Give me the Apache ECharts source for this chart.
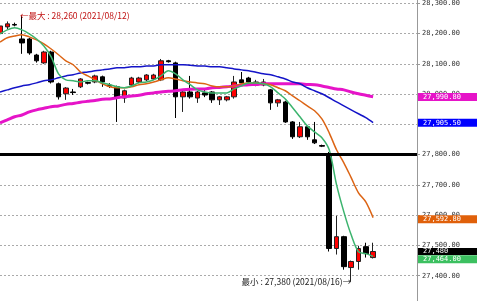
<!DOCTYPE html>
<html>
<head>
<meta charset="utf-8">
<script src="https://cdn.jsdelivr.net/npm/echarts@6/dist/echarts.min.js"></script>
<style>
  html, body { margin: 0; padding: 0; background: #fff; }
  #chart { width: 480px; height: 301px; }
</style>
</head>
<body>
<div id="chart"></div>
<script>
// bars (hidden axis), 52 candles + empty room on the right
const categories = [
  '1', '2', '3', '4', '5', '6', '7', '8', '9', '10', '11', '12', '13', '14', '15',
  '16', '17', '18', '19', '20', '21', '22', '23', '24', '25', '26', '27', '28', '29', '30',
  '31', '32', '33', '34', '35', '36', '37', '38', '39', '40', '41', '42', '43', '44', '45',
  '46', '47', '48', '49', '50', '51', '52', '53', '54', '55', '56', '57', '58',
];

// [open, close, low, high]
const candles = [
  [28200, 28225, 28195, 28235], [28222, 28232, 28215, 28240], [28230, 28228, 28224, 28236],
  [28182, 28169, 28133, 28260], [28182, 28136, 28130, 28186], [28129, 28110, 28104, 28133],
  [28103, 28139, 28100, 28143], [28139, 28040, 28035, 28143], [28034, 27991, 27982, 28038],
  [28001, 28020, 27981, 28023], [28007, 28005, 27997, 28017], [28024, 28050, 28020, 28053],
  [28038, 28036, 28032, 28041], [28040, 28060, 28036, 28064], [28057, 28040, 28024, 28061],
  [28030, 28026, 28020, 28036], [28024, 27987, 27908, 28028], [27987, 28011, 27971, 28015],
  [28030, 28053, 28026, 28057], [28040, 28053, 28036, 28057], [28047, 28063, 28043, 28066],
  [28050, 28063, 28046, 28067], [28047, 28110, 28043, 28116], [28110, 28107, 28104, 28113],
  [28103, 27991, 27921, 28107], [27991, 28007, 27941, 28010], [28007, 27991, 27985, 28060],
  [27987, 28007, 27971, 28010], [28004, 27997, 27990, 28017], [28007, 27981, 27971, 28010],
  [27981, 27991, 27964, 27994], [27981, 27991, 27976, 27994], [27991, 28040, 27985, 28060],
  [28047, 28037, 28033, 28073], [28053, 28040, 28036, 28057], [28030, 28040, 28026, 28047],
  [28030, 28040, 28026, 28050], [28014, 27971, 27948, 28017], [27971, 27981, 27958, 27984],
  [27974, 27908, 27905, 27978], [27908, 27859, 27852, 27911], [27859, 27892, 27855, 27908],
  [27892, 27859, 27849, 27895], [27849, 27839, 27835, 27908], [27830, 27828, 27825, 27833],
  [27799, 27490, 27480, 27809], [27490, 27529, 27470, 27598], [27529, 27430, 27420, 27532],
  [27427, 27447, 27380, 27450], [27447, 27490, 27420, 27499], [27496, 27473, 27460, 27509],
  [27460, 27480, 27457, 27509],
];

// moving averages
const maGreen = [
  28199, 28212, 28219, 28212, 28199, 28182, 28159, 28123, 28067, 28047,
  28044, 28040, 28044, 28044, 28037, 28031, 28024, 28021, 28027, 28037,
  28040, 28047, 28060, 28077, 28067, 28047, 28031, 28014, 28007, 28004,
  28004, 28004, 28017, 28027, 28037, 28037, 28034, 28024, 28004, 27984,
  27955, 27925, 27895, 27875, 27856, 27816, 27701, 27611, 27535, 27479,
  27473, 27464,
];
const maOrange = [
  28172, 28186, 28192, 28196, 28189, 28179, 28166, 28149, 28130, 28110,
  28097, 28073, 28060, 28047, 28034, 28024, 28021, 28021, 28024, 28031,
  28034, 28040, 28047, 28054, 28050, 28044, 28040, 28037, 28034, 28027,
  28024, 28024, 28027, 28034, 28037, 28037, 28034, 28031, 28021, 28011,
  27994, 27978, 27961, 27945, 27918, 27872, 27816, 27773, 27724, 27674,
  27644, 27592,
];
const maBlue = [
  28007, 28014, 28021, 28027, 28031, 28037, 28044, 28047, 28054, 28060,
  28064, 28070, 28073, 28077, 28080, 28083, 28087, 28087, 28090, 28090,
  28093, 28093, 28097, 28097, 28097, 28097, 28095, 28093, 28093, 28090,
  28090, 28087, 28083, 28080, 28077, 28072, 28067, 28064, 28057, 28050,
  28040, 28034, 28021, 28011, 28001, 27988, 27974, 27961, 27948, 27935,
  27922, 27905.5,
];
const maMagenta = [
  27905, 27915, 27925, 27931, 27941, 27948, 27953, 27958, 27961, 27966,
  27969, 27973, 27976, 27979, 27983, 27984, 27988, 27991, 27994, 27996,
  28001, 28004, 28007, 28009, 28011, 28014, 28016, 28017, 28017, 28021,
  28022, 28024, 28027, 28029, 28031, 28032, 28034, 28034, 28034, 28034,
  28034, 28034, 28032, 28031, 28027, 28022, 28017, 28014, 28007, 28001,
  27996, 27991,
];

// price boxes on the right axis
const boxValues = [27990.8, 27905.5, 27592.8, 27480, 27464];
const boxTexts = ['27,990.80', '27,905.50', '27,592.80', '27,480', '27,464.00'];
const boxColors = ['#e614c8', '#0000ff', '#e0600a', '#000000', '#3cc060'];

const hLineValue = 27800;
const maxPoint = [3, 28260];
const minPoint = [48, 27380];
const maxText = '←最大 : 28,260 (2021/08/12)';
const minText = '最小 : 27,380 (2021/08/16)→';

const monoFont = 'DejaVu Sans Mono';

function fmt(v) {
  return String(v).replace(/\B(?=(\d{3})+(?!\d))/g, ',') + '.00';
}

function boxLine(i, dy, h) {
  return {
    yAxis: boxValues[i],
    lineStyle: { width: 0, color: 'rgba(0,0,0,0)' },
    label: {
      show: true,
      position: 'end',
      distance: 1,
      offset: [0, dy || 0],
      formatter: boxTexts[i],
      backgroundColor: boxColors[i],
      color: '#fff',
      fontSize: 7,
      fontFamily: monoFont,
      width: 54,
      height: h || 8,
      lineHeight: h || 8,
      padding: [0, 0, 0, 5],
    },
  };
}

function maSeries(data, color, width, box) {
  return {
    type: 'line',
    data: data,
    showSymbol: false,
    smooth: 0.3,
    silent: true,
    lineStyle: { color: color, width: width },
    markLine: {
      silent: true,
      symbol: ['none', 'none'],
      data: [box],
    },
  };
}

const chart = echarts.init(document.getElementById('chart'));
chart.setOption({
  animation: false,
  backgroundColor: '#fff',
  grid: {
    left: 0,
    right: 63,
    top: -27,
    bottom: -5,
    containLabel: false,
    outerBoundsMode: 'none',
  },
  xAxis: {
    type: 'category',
    data: categories,
    boundaryGap: false,
    show: false,
  },
  yAxis: {
    type: 'value',
    position: 'right',
    min: 27300,
    max: 28400,
    interval: 100,
    axisLine: { show: true, lineStyle: { color: '#999' } },
    axisTick: { show: true, length: 3, lineStyle: { color: '#999' } },
    axisLabel: {
      margin: 5,
      color: '#333',
      fontSize: 7,
      fontFamily: monoFont,
      formatter: fmt,
    },
    splitLine: { show: true, lineStyle: { color: '#aaa', width: 1, type: [2, 2] } },
  },
  series: [
    {
      type: 'candlestick',
      data: candles,
      barWidth: 5,
      itemStyle: {
        color: '#ff0000',
        color0: '#000000',
        borderColor: '#222',
        borderColor0: '#000',
        borderWidth: 1,
      },
      markLine: {
        silent: true,
        symbol: ['none', 'none'],
        data: [
          { yAxis: hLineValue, lineStyle: { color: '#000', width: 3, type: 'solid' }, label: { show: false } },
          boxLine(3, 0, 7),
        ],
      },
      markPoint: {
        silent: true,
        symbol: 'circle',
        symbolSize: 0,
        data: [
          {
            coord: maxPoint,
            label: {
              show: true, position: 'right', distance: 0, offset: [-2, 0],
              formatter: maxText, color: '#c01010', fontSize: 8.5, fontFamily: 'Noto Sans CJK JP',
            },
          },
          {
            coord: minPoint,
            label: {
              show: true, position: 'left', distance: 0, offset: [0, 0],
              formatter: minText, color: '#222', fontSize: 8.5, fontFamily: 'Noto Sans CJK JP',
            },
          },
        ],
      },
    },
    maSeries(maMagenta, '#e614c8', 3, boxLine(0)),
    maSeries(maBlue, '#1414c8', 1.5, boxLine(1)),
    maSeries(maOrange, '#dc6414', 1.5, boxLine(2, 2)),
    maSeries(maGreen, '#3cb46e', 1.5, boxLine(4, 3)),
  ],
});
</script>
</body>
</html>
